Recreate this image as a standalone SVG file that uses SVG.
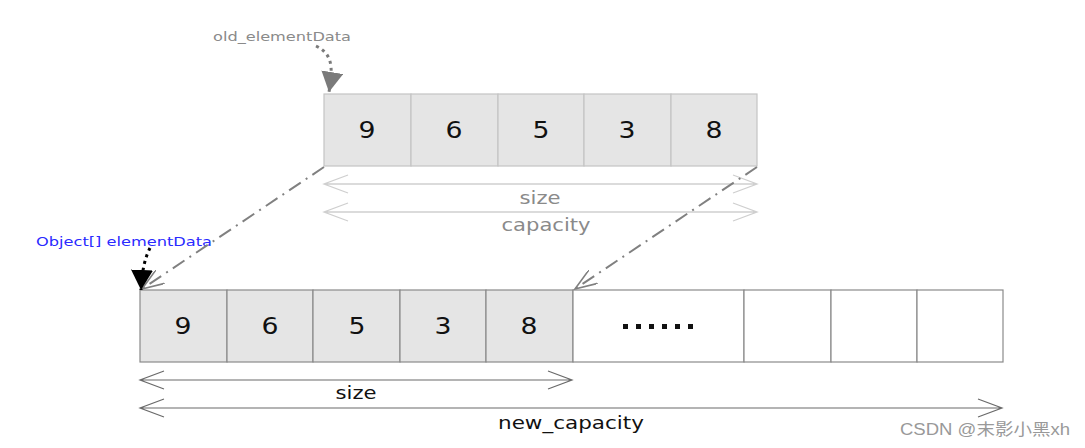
<svg xmlns="http://www.w3.org/2000/svg" width="1085" height="448" viewBox="0 0 1085 448">
<style>
.num{font-family:"DejaVu Sans",sans-serif;font-size:23px;fill:#111;text-anchor:middle}
.lbl{font-family:"DejaVu Sans",sans-serif;text-anchor:middle}
.cellA{fill:#e5e5e5;stroke:#c4c4c4;stroke-width:1.2}
.cellB{fill:#e5e5e5;stroke:#8a8a8a;stroke-width:1.2}
.cellW{fill:#ffffff;stroke:#8a8a8a;stroke-width:1.2}
.dimL{stroke:#cfcfcf;stroke-width:1.3;fill:none}
.dimD{stroke:#6a6a6a;stroke-width:1.2;fill:none}
.dd{stroke:#808080;stroke-width:2;fill:none;stroke-dasharray:14 6 2 6}
</style>
<defs>
<marker id="openA" markerWidth="24" markerHeight="16" refX="22" refY="8" orient="auto" markerUnits="userSpaceOnUse"><path d="M0,0 L22,8 L0,16" fill="none" stroke="#808080" stroke-width="1.6"/></marker>
<marker id="triG" markerWidth="22" markerHeight="22" refX="20" refY="11" orient="auto" markerUnits="userSpaceOnUse"><path d="M0,0 L20,11 L0,22 Z" fill="#7a7a7a"/></marker>
<marker id="triK" markerWidth="22" markerHeight="22" refX="20" refY="11" orient="auto" markerUnits="userSpaceOnUse"><path d="M0,0 L20,11 L0,22 Z" fill="#000"/></marker>
</defs>
<rect width="1085" height="448" fill="#fff"/>
<g id="old_array">
<rect class="cellA" x="324" y="94" width="87" height="72"/>
<rect class="cellA" x="411" y="94" width="87" height="72"/>
<rect class="cellA" x="498" y="94" width="86" height="72"/>
<rect class="cellA" x="584" y="94" width="87" height="72"/>
<rect class="cellA" x="671" y="94" width="86" height="72"/>
<text class="num" x="367" y="138" textLength="17" lengthAdjust="spacingAndGlyphs">9</text>
<text class="num" x="454" y="138" textLength="17" lengthAdjust="spacingAndGlyphs">6</text>
<text class="num" x="541" y="138" textLength="17" lengthAdjust="spacingAndGlyphs">5</text>
<text class="num" x="627" y="138" textLength="17" lengthAdjust="spacingAndGlyphs">3</text>
<text class="num" x="714" y="138" textLength="17" lengthAdjust="spacingAndGlyphs">8</text>
</g>
<g id="new_array">
<rect class="cellB" x="140" y="290" width="87" height="72"/>
<rect class="cellB" x="227" y="290" width="86" height="72"/>
<rect class="cellB" x="313" y="290" width="87" height="72"/>
<rect class="cellB" x="400" y="290" width="86" height="72"/>
<rect class="cellB" x="486" y="290" width="87" height="72"/>
<rect class="cellW" x="573" y="290" width="171" height="72"/>
<rect class="cellW" x="744" y="290" width="87" height="72"/>
<rect class="cellW" x="831" y="290" width="86" height="72"/>
<rect class="cellW" x="917" y="290" width="86" height="72"/>
<text class="num" x="183" y="334" textLength="17" lengthAdjust="spacingAndGlyphs">9</text>
<text class="num" x="270" y="334" textLength="17" lengthAdjust="spacingAndGlyphs">6</text>
<text class="num" x="357" y="334" textLength="17" lengthAdjust="spacingAndGlyphs">5</text>
<text class="num" x="443" y="334" textLength="17" lengthAdjust="spacingAndGlyphs">3</text>
<text class="num" x="529" y="334" textLength="17" lengthAdjust="spacingAndGlyphs">8</text>
<g fill="#111">
<rect x="623" y="324" width="5" height="5"/><rect x="636" y="324" width="5" height="5"/><rect x="649" y="324" width="5" height="5"/><rect x="662" y="324" width="5" height="5"/><rect x="675" y="324" width="5" height="5"/><rect x="688" y="324" width="5" height="5"/>
</g>
</g>
<g id="old_dims">
<path class="dimL" d="M324,184 H757 M348,175 L324,184 L348,193 M733,175 L757,184 L733,193"/>
<text class="lbl" x="540" y="204" font-size="17" fill="#8a8a8a" textLength="41" lengthAdjust="spacingAndGlyphs">size</text>
<path class="dimL" d="M324,212 H757 M348,203 L324,212 L348,221 M733,203 L757,212 L733,221"/>
<text class="lbl" x="546" y="231" font-size="17" fill="#8a8a8a" textLength="89" lengthAdjust="spacingAndGlyphs">capacity</text>
</g>
<g id="new_dims">
<path class="dimD" d="M140,380 H572 M164,371 L140,380 L164,389 M548,371 L572,380 L548,389"/>
<text class="lbl" x="356" y="399" font-size="17" fill="#111" textLength="41" lengthAdjust="spacingAndGlyphs">size</text>
<path class="dimD" d="M140,408 H1002 M164,399 L140,408 L164,417 M978,399 L1002,408 L978,417"/>
<text class="lbl" x="571" y="429" font-size="17" fill="#111" textLength="146" lengthAdjust="spacingAndGlyphs">new_capacity</text>
</g>
<g id="labels">
<text class="lbl" x="282" y="41" font-size="13" fill="#8a8a8a" textLength="138" lengthAdjust="spacingAndGlyphs">old_elementData</text>
<text class="lbl" x="124" y="246" font-size="13" fill="#2a2aff" textLength="176" lengthAdjust="spacingAndGlyphs">Object[] elementData</text>
</g>
<g id="connectors">
<path class="dd" d="M324,167 L142,289" marker-end="url(#openA)"/>
<path class="dd" d="M757,167 L575,289" marker-end="url(#openA)"/>
<path d="M316,46 C333,54 333,68 329,92" fill="none" stroke="#7a7a7a" stroke-width="3" stroke-dasharray="3 4" marker-end="url(#triG)"/>
<path d="M150,248 C145,258 142,270 141,290" fill="none" stroke="#000" stroke-width="3" stroke-dasharray="3 4" marker-end="url(#triK)"/>
</g>
<text x="985" y="435" font-family="'Liberation Sans','Noto Sans CJK SC',sans-serif" font-size="16" fill="#999" text-anchor="middle" textLength="170" lengthAdjust="spacingAndGlyphs">CSDN @末影小黑xh</text>
</svg>
